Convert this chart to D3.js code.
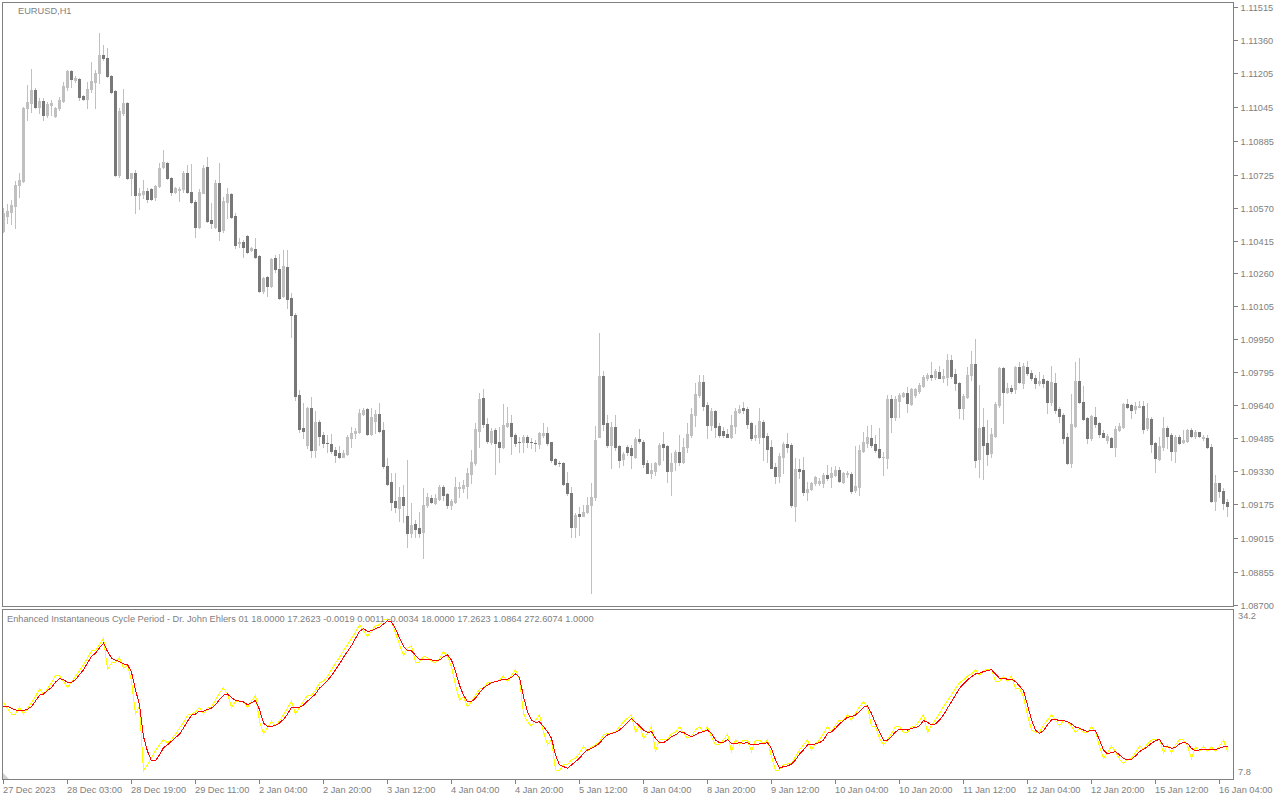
<!DOCTYPE html>
<html><head><meta charset="utf-8">
<script src="https://cdn.jsdelivr.net/npm/d3@7"></script>
<style>html,body{margin:0;padding:0;background:#fff;} svg{display:block;}</style>
</head><body>
<svg id="c" width="1280" height="800"></svg>
<script>
// ---- DATA (EURUSD H1, 307 bars) ----
const open = [1.10460,1.10531,1.10550,1.10578,1.10676,1.10695,1.11039,1.11063,1.11124,1.11044,1.11072,1.11006,1.11053,1.11002,1.11039,1.11072,1.11138,1.11213,1.11171,1.11176,1.11096,1.11082,1.11129,1.11162,1.11204,1.11288,1.11274,1.11190,1.11119,1.10723,1.11016,1.11063,1.10709,1.10733,1.10629,1.10634,1.10648,1.10658,1.10620,1.10672,1.10761,1.10780,1.10709,1.10644,1.10653,1.10658,1.10733,1.10644,1.10597,1.10479,1.10639,1.10761,1.10512,1.10479,1.10686,1.10465,1.10597,1.10634,1.10531,1.10404,1.10409,1.10437,1.10370,1.10376,1.10342,1.10177,1.10243,1.10201,1.10332,1.10281,1.10154,1.10290,1.10144,1.10064,1.09687,1.09532,1.09452,1.09626,1.09429,1.09561,1.09499,1.09462,1.09457,1.09429,1.09415,1.09396,1.09410,1.09485,1.09509,1.09514,1.09598,1.09622,1.09504,1.09565,1.09598,1.09523,1.09354,1.09279,1.09188,1.09155,1.09208,1.09118,1.09038,1.09080,1.09061,1.09043,1.09169,1.09203,1.09179,1.09198,1.09255,1.09222,1.09169,1.09184,1.09250,1.09250,1.09260,1.09316,1.09368,1.09518,1.09673,1.09551,1.09467,1.09523,1.09467,1.09443,1.09542,1.09556,1.09499,1.09467,1.09467,1.09490,1.09467,1.09462,1.09457,1.09499,1.09509,1.09467,1.09387,1.09368,1.09368,1.09274,1.09227,1.09066,1.09127,1.09118,1.09137,1.09169,1.09208,1.09490,1.09777,1.09556,1.09452,1.09537,1.09448,1.09387,1.09443,1.09438,1.09396,1.09481,1.09467,1.09368,1.09321,1.09330,1.09363,1.09457,1.09448,1.09330,1.09373,1.09420,1.09373,1.09443,1.09499,1.09593,1.09687,1.09749,1.09641,1.09546,1.09612,1.09542,1.09518,1.09504,1.09490,1.09542,1.09608,1.09626,1.09622,1.09556,1.09490,1.09490,1.09561,1.09495,1.09443,1.09349,1.09307,1.09396,1.09457,1.09452,1.09165,1.09340,1.09335,1.09232,1.09246,1.09274,1.09274,1.09274,1.09311,1.09302,1.09311,1.09335,1.09279,1.09316,1.09316,1.09241,1.09255,1.09424,1.09462,1.09485,1.09457,1.09433,1.09394,1.09392,1.09669,1.09584,1.09659,1.09683,1.09697,1.09645,1.09687,1.09706,1.09730,1.09767,1.09781,1.09772,1.09796,1.09767,1.09772,1.09852,1.09786,1.09744,1.09626,1.09678,1.09781,1.09833,1.09387,1.09537,1.09462,1.09415,1.09495,1.09641,1.09815,1.09702,1.09720,1.09716,1.09819,1.09744,1.09819,1.09791,1.09767,1.09744,1.09763,1.09753,1.09655,1.09744,1.09622,1.09593,1.09490,1.09368,1.09542,1.09753,1.09655,1.09579,1.09485,1.09584,1.09556,1.09509,1.09476,1.09485,1.09443,1.09523,1.09537,1.09645,1.09641,1.09622,1.09631,1.09636,1.09532,1.09575,1.09462,1.09387,1.09443,1.09532,1.09499,1.09424,1.09490,1.09467,1.09471,1.09523,1.09495,1.09514,1.09485,1.09485,1.09443,1.09188,1.09274,1.09236,1.09184];
const high = [1.10568,1.10587,1.10606,1.10695,1.10733,1.11044,1.11147,1.11223,1.11133,1.11086,1.11086,1.11068,1.11077,1.11044,1.11091,1.11162,1.11218,1.11218,1.11190,1.11180,1.11100,1.11162,1.11256,1.11218,1.11393,1.11336,1.11322,1.11194,1.11124,1.11039,1.11129,1.11068,1.10733,1.10747,1.10662,1.10700,1.10662,1.10662,1.10676,1.10780,1.10841,1.10785,1.10714,1.10667,1.10667,1.10742,1.10770,1.10775,1.10606,1.10658,1.10770,1.10808,1.10592,1.10700,1.10780,1.10620,1.10662,1.10639,1.10545,1.10427,1.10418,1.10441,1.10385,1.10427,1.10346,1.10243,1.10248,1.10332,1.10346,1.10351,1.10370,1.10370,1.10168,1.10074,1.09711,1.09650,1.09631,1.09678,1.09612,1.09570,1.09514,1.09499,1.09504,1.09443,1.09448,1.09429,1.09499,1.09537,1.09532,1.09622,1.09626,1.09626,1.09626,1.09617,1.09650,1.09561,1.09392,1.09321,1.09321,1.09255,1.09264,1.09382,1.09179,1.09099,1.09137,1.09250,1.09227,1.09217,1.09222,1.09264,1.09264,1.09227,1.09198,1.09302,1.09279,1.09288,1.09344,1.09429,1.09556,1.09697,1.09716,1.09579,1.09532,1.09532,1.09537,1.09645,1.09631,1.09593,1.09509,1.09490,1.09499,1.09499,1.09485,1.09476,1.09514,1.09556,1.09537,1.09467,1.09392,1.09377,1.09373,1.09326,1.09255,1.09132,1.09160,1.09169,1.09208,1.09274,1.09542,1.09980,1.09800,1.09593,1.09561,1.09593,1.09452,1.09420,1.09452,1.09452,1.09490,1.09528,1.09476,1.09382,1.09368,1.09373,1.09462,1.09514,1.09452,1.09415,1.09429,1.09499,1.09485,1.09556,1.09626,1.09744,1.09781,1.09781,1.09655,1.09626,1.09617,1.09556,1.09537,1.09528,1.09593,1.09626,1.09641,1.09655,1.09631,1.09561,1.09546,1.09626,1.09570,1.09509,1.09476,1.09368,1.09415,1.09467,1.09509,1.09462,1.09392,1.09387,1.09396,1.09279,1.09279,1.09307,1.09297,1.09321,1.09358,1.09349,1.09354,1.09349,1.09326,1.09330,1.09326,1.09448,1.09452,1.09514,1.09542,1.09546,1.09499,1.09532,1.09420,1.09687,1.09687,1.09683,1.09697,1.09702,1.09725,1.09720,1.09720,1.09744,1.09781,1.09791,1.09843,1.09810,1.09824,1.09810,1.09881,1.09876,1.09810,1.09749,1.09692,1.09819,1.09895,1.09952,1.09734,1.09626,1.09570,1.09532,1.09655,1.09819,1.09819,1.09744,1.09734,1.09824,1.09843,1.09838,1.09847,1.09805,1.09781,1.09796,1.09781,1.09758,1.09824,1.09791,1.09631,1.09603,1.09509,1.09692,1.09843,1.09862,1.09730,1.09584,1.09593,1.09631,1.09561,1.09523,1.09504,1.09490,1.09542,1.09556,1.09650,1.09669,1.09645,1.09655,1.09659,1.09659,1.09650,1.09584,1.09467,1.09490,1.09584,1.09542,1.09509,1.09499,1.09499,1.09523,1.09528,1.09532,1.09523,1.09514,1.09499,1.09499,1.09457,1.09311,1.09274,1.09250,1.09198];
const low = [1.10456,1.10498,1.10493,1.10474,1.10620,1.10691,1.10983,1.11021,1.11039,1.11016,1.10983,1.10997,1.11006,1.10997,1.11030,1.11068,1.11124,1.11138,1.11162,1.11077,1.11077,1.11039,1.11115,1.11039,1.11157,1.11265,1.11185,1.11110,1.10719,1.10714,1.11006,1.10705,1.10629,1.10545,1.10564,1.10615,1.10597,1.10606,1.10606,1.10667,1.10756,1.10705,1.10629,1.10639,1.10601,1.10644,1.10639,1.10592,1.10432,1.10474,1.10639,1.10503,1.10474,1.10474,1.10418,1.10456,1.10521,1.10521,1.10380,1.10385,1.10337,1.10356,1.10365,1.10332,1.10173,1.10168,1.10154,1.10196,1.10267,1.10140,1.10149,1.10097,1.09961,1.09664,1.09514,1.09485,1.09438,1.09396,1.09396,1.09452,1.09443,1.09420,1.09415,1.09373,1.09392,1.09396,1.09405,1.09443,1.09485,1.09509,1.09593,1.09499,1.09499,1.09509,1.09514,1.09344,1.09264,1.09146,1.09137,1.09094,1.09090,1.08972,1.09019,1.09019,1.09019,1.08920,1.09160,1.09179,1.09174,1.09193,1.09193,1.09155,1.09151,1.09179,1.09208,1.09232,1.09203,1.09274,1.09358,1.09443,1.09537,1.09462,1.09457,1.09316,1.09373,1.09438,1.09537,1.09410,1.09448,1.09420,1.09420,1.09443,1.09438,1.09424,1.09438,1.09490,1.09452,1.09373,1.09358,1.09354,1.09264,1.09217,1.09019,1.09019,1.09028,1.09118,1.09132,1.08756,1.09193,1.09490,1.09523,1.09443,1.09344,1.09429,1.09349,1.09358,1.09405,1.09344,1.09392,1.09462,1.09349,1.09321,1.09297,1.09311,1.09358,1.09382,1.09279,1.09217,1.09335,1.09358,1.09368,1.09420,1.09490,1.09542,1.09678,1.09617,1.09485,1.09523,1.09490,1.09490,1.09490,1.09490,1.09485,1.09509,1.09603,1.09603,1.09532,1.09476,1.09476,1.09462,1.09382,1.09373,1.09344,1.09274,1.09279,1.09321,1.09420,1.09160,1.09094,1.09297,1.09217,1.09193,1.09241,1.09264,1.09264,1.09255,1.09288,1.09255,1.09307,1.09279,1.09274,1.09302,1.09227,1.09232,1.09217,1.09420,1.09443,1.09443,1.09420,1.09392,1.09311,1.09344,1.09514,1.09570,1.09584,1.09678,1.09608,1.09641,1.09678,1.09697,1.09725,1.09758,1.09758,1.09763,1.09767,1.09749,1.09734,1.09767,1.09711,1.09579,1.09575,1.09673,1.09758,1.09349,1.09302,1.09293,1.09358,1.09396,1.09490,1.09631,1.09556,1.09697,1.09697,1.09697,1.09744,1.09720,1.09781,1.09758,1.09720,1.09734,1.09725,1.09603,1.09641,1.09603,1.09561,1.09462,1.09363,1.09349,1.09537,1.09650,1.09570,1.09462,1.09476,1.09537,1.09490,1.09490,1.09462,1.09443,1.09401,1.09518,1.09532,1.09626,1.09579,1.09603,1.09631,1.09509,1.09523,1.09420,1.09326,1.09382,1.09429,1.09438,1.09382,1.09373,1.09457,1.09462,1.09467,1.09490,1.09485,1.09490,1.09476,1.09438,1.09184,1.09146,1.09208,1.09151,1.09118];
const close = [1.10545,1.10554,1.10582,1.10676,1.10700,1.11039,1.11068,1.11124,1.11044,1.11072,1.11006,1.11058,1.11063,1.11039,1.11077,1.11143,1.11213,1.11176,1.11180,1.11091,1.11082,1.11129,1.11166,1.11204,1.11288,1.11274,1.11190,1.11115,1.10723,1.11025,1.11063,1.10709,1.10733,1.10629,1.10639,1.10648,1.10611,1.10611,1.10672,1.10756,1.10785,1.10709,1.10644,1.10662,1.10658,1.10733,1.10644,1.10597,1.10479,1.10644,1.10756,1.10507,1.10498,1.10686,1.10460,1.10601,1.10634,1.10526,1.10394,1.10409,1.10385,1.10361,1.10380,1.10337,1.10177,1.10238,1.10201,1.10328,1.10281,1.10144,1.10295,1.10140,1.10064,1.09683,1.09528,1.09518,1.09626,1.09429,1.09561,1.09495,1.09462,1.09460,1.09424,1.09405,1.09396,1.09415,1.09490,1.09509,1.09518,1.09603,1.09617,1.09504,1.09584,1.09598,1.09518,1.09354,1.09269,1.09184,1.09160,1.09208,1.09169,1.09038,1.09075,1.09057,1.09038,1.09169,1.09208,1.09184,1.09203,1.09255,1.09217,1.09169,1.09188,1.09255,1.09255,1.09264,1.09321,1.09373,1.09528,1.09669,1.09551,1.09471,1.09518,1.09462,1.09443,1.09546,1.09556,1.09495,1.09462,1.09465,1.09490,1.09467,1.09465,1.09460,1.09509,1.09509,1.09462,1.09382,1.09363,1.09366,1.09269,1.09227,1.09066,1.09122,1.09118,1.09137,1.09169,1.09208,1.09476,1.09777,1.09551,1.09452,1.09537,1.09443,1.09382,1.09410,1.09420,1.09405,1.09481,1.09471,1.09363,1.09321,1.09335,1.09368,1.09452,1.09443,1.09330,1.09368,1.09420,1.09373,1.09443,1.09504,1.09598,1.09692,1.09749,1.09636,1.09546,1.09612,1.09537,1.09499,1.09499,1.09490,1.09546,1.09612,1.09622,1.09617,1.09551,1.09485,1.09499,1.09565,1.09490,1.09433,1.09344,1.09307,1.09401,1.09457,1.09443,1.09169,1.09340,1.09330,1.09232,1.09246,1.09274,1.09302,1.09283,1.09311,1.09297,1.09321,1.09335,1.09283,1.09321,1.09321,1.09236,1.09260,1.09429,1.09467,1.09490,1.09452,1.09429,1.09396,1.09396,1.09669,1.09584,1.09669,1.09687,1.09697,1.09650,1.09716,1.09716,1.09734,1.09772,1.09781,1.09772,1.09800,1.09767,1.09777,1.09852,1.09777,1.09744,1.09626,1.09683,1.09781,1.09833,1.09382,1.09532,1.09452,1.09410,1.09504,1.09645,1.09815,1.09702,1.09720,1.09706,1.09819,1.09749,1.09824,1.09791,1.09767,1.09744,1.09753,1.09744,1.09655,1.09749,1.09617,1.09589,1.09485,1.09368,1.09551,1.09753,1.09655,1.09575,1.09485,1.09589,1.09551,1.09504,1.09490,1.09495,1.09443,1.09528,1.09542,1.09645,1.09631,1.09617,1.09636,1.09636,1.09528,1.09579,1.09457,1.09392,1.09448,1.09532,1.09495,1.09424,1.09490,1.09462,1.09476,1.09523,1.09495,1.09514,1.09495,1.09490,1.09443,1.09188,1.09274,1.09236,1.09179,1.09165];

// Enhanced Instantaneous Cycle Period: yellow = period, red = smoothed period
const periodYellow = [19.6,18.6,17.6,17.6,18.75,17.6,18.6,19.5,20.6,21.85,21.0,21.85,22.9,24.1,24.1,23.15,22.1,23.0,24.0,24.95,25.97,27.1,28.3,28.3,29.35,30.5,25.2,26.25,26.25,27.2,25.3,25.85,23.15,17.6,18.9,8.03,9.05,10.2,11.4,12.4,13.3,12.7,13.3,14.2,15.25,16.2,17.4,17.6,17.96,18.75,17.6,18.6,18.75,20.0,21.2,22.0,21.0,18.75,19.8,19.8,19.65,18.75,19.8,20.8,16.4,14.4,15.25,16.4,15.7,16.4,17.5,18.6,19.8,17.6,18.75,19.8,20.8,20.8,21.6,22.9,23.15,24.0,25.1,26.25,27.2,28.3,29.35,30.4,31.5,32.7,31.7,30.76,31.6,32.6,32.7,33.6,33.7,33.2,31.3,29.35,27.55,28.7,29.2,26.4,26.4,27.4,27.2,26.5,26.3,27.0,28.17,27.4,25.6,22.5,20.0,20.55,18.86,19.7,20.8,21.8,22.0,22.9,22.9,23.1,23.4,24.05,23.1,24.2,25.1,23.5,17.7,16.3,15.6,16.6,17.45,14.6,12.4,13.2,8.15,8.03,9.0,9.0,9.95,10.12,10.97,12.2,11.25,12.09,12.4,12.94,14.07,14.35,14.35,14.6,15.5,16.3,16.9,17.45,14.5,15.76,13.5,14.35,15.5,11.25,13.2,13.3,13.3,14.35,14.5,15.5,14.35,13.5,13.9,14.9,15.5,14.6,15.4,13.8,12.4,12.4,13.2,14.24,11.25,13.2,12.4,13.2,13.2,11.25,13.2,13.2,12.5,13.2,10.4,8.03,8.15,9.0,9.16,9.16,10.4,11.53,12.4,13.2,11.53,12.66,13.2,14.35,15.5,14.6,15.76,16.6,16.6,17.45,16.6,17.7,18.86,19.7,18.75,15.6,15.5,13.5,12.4,13.2,14.35,15.5,15.5,14.5,14.5,15.5,15.6,16.5,17.45,14.5,15.76,16.6,17.7,18.86,19.9,20.8,21.96,22.9,23.4,24.05,24.4,25.1,24.2,24.95,25.2,25.1,23.1,23.1,24.05,23.1,24.05,21.96,21.96,20.55,17.45,14.9,14.5,14.5,15.76,16.6,17.45,16.6,15.6,16.5,16.3,15.6,14.5,15.2,14.5,14.5,15.5,14.6,12.09,10.12,11.08,12.2,11.25,9.95,9.27,9.95,10.12,11.08,12.2,11.64,12.55,13.2,13.33,13.33,11.08,12.4,11.08,12.4,13.33,13.2,12.2,10.12,12.09,11.25,12.2,11.25,12.09,11.25,12.2,13.2,11.25];
const periodRed = [18.8,18.9,18.6,18.3,18.2,18.2,18.4,18.9,19.8,20.8,21.0,21.6,22.1,23.0,23.6,23.4,23.0,23.0,23.4,24.3,25.1,26.25,27.4,27.9,28.8,29.6,28.2,27.1,26.7,26.5,26.1,25.97,24.7,21.7,19.2,13.8,11.3,9.7,9.7,10.7,11.9,12.4,13.0,13.6,14.2,15.25,16.4,17.4,17.6,18.1,18.1,18.4,18.6,19.2,20.05,20.8,21.0,20.4,19.9,19.8,19.65,19.2,19.5,19.9,18.35,16.1,15.5,15.5,15.7,16.1,16.7,17.6,18.75,18.75,18.75,19.1,19.8,20.4,21.0,22.0,22.6,23.3,24.1,25.1,26.1,27.2,28.2,29.2,30.4,31.6,32.06,31.6,31.7,32.06,32.3,32.85,33.4,33.2,32.06,30.5,29.1,28.3,28.3,27.55,26.8,26.8,26.9,26.76,26.6,26.76,27.3,27.6,26.76,24.8,22.5,20.8,19.7,19.7,20.27,21.2,22.0,22.5,22.9,23.1,23.26,23.5,23.5,23.8,24.4,23.8,20.55,18.0,16.6,16.2,16.3,15.5,14.6,13.5,10.7,9.0,8.71,8.43,9.0,9.55,10.12,10.97,11.53,11.8,12.2,12.66,13.5,14.07,14.35,14.5,14.9,15.5,16.2,16.9,16.2,15.6,14.9,14.5,14.6,13.5,12.77,12.77,13.2,13.8,14.07,14.6,14.5,14.07,13.8,14.07,14.5,14.6,14.9,14.35,13.2,12.77,12.77,13.3,12.66,12.55,12.77,12.66,12.77,12.4,12.4,12.55,12.55,12.77,11.8,9.84,8.43,8.71,8.82,9.16,9.84,10.85,11.53,12.4,12.4,12.55,12.77,13.2,14.35,14.6,15.2,15.93,16.5,17.05,17.17,17.45,18.0,18.75,18.97,17.7,16.04,14.5,13.2,13.2,13.8,14.6,15.03,15.03,14.9,15.2,15.3,15.6,16.5,16.2,15.76,15.93,16.6,17.45,18.6,19.7,20.8,21.96,22.7,23.4,23.9,24.4,24.5,24.8,24.95,25.1,24.4,23.65,23.65,23.5,23.5,23.1,22.36,21.57,19.14,16.6,14.9,14.35,14.8,15.76,16.6,16.7,16.5,16.5,16.3,15.93,15.4,15.2,14.9,14.6,14.9,14.8,13.2,11.53,10.85,11.08,11.25,10.7,10.12,9.84,9.95,10.5,11.25,11.64,12.09,12.66,13.1,13.33,12.2,12.09,11.8,11.98,12.55,12.77,12.66,11.8,11.4,11.53,11.64,11.64,11.64,11.64,11.8,12.09,12.09];

const priceTicks = ["1.11515","1.11360","1.11205","1.11045","1.10885","1.10725","1.10570","1.10415","1.10260","1.10105","1.09950","1.09795","1.09640","1.09485","1.09330","1.09175","1.09015","1.08855","1.08700"];
const indicatorTicks = ["34.2","7.8"];
const timeLabels = ["27 Dec 2023","28 Dec 03:00","28 Dec 19:00","29 Dec 11:00","2 Jan 04:00","2 Jan 20:00","3 Jan 12:00","4 Jan 04:00","4 Jan 20:00","5 Jan 12:00","8 Jan 04:00","8 Jan 20:00","9 Jan 12:00","10 Jan 04:00","10 Jan 20:00","11 Jan 12:00","12 Jan 04:00","12 Jan 20:00","15 Jan 12:00","16 Jan 04:00"];
const barsPerLabel = 16;
const symbolTitle = "EURUSD,H1";
const indicatorTitle = "Enhanced Instantaneous Cycle Period - Dr. John Ehlers 01 18.0000 17.2623 -0.0019 0.0011 -0.0034 18.0000 17.2623 1.0864 272.6074 1.0000";

// ---- STYLE ----
const C = {bg:"#ffffff", frame:"#808080", text:"#808080", bull:"#c0c0c0", bear:"#787878", wick:"#c0c0c0", yellow:"#ffff00", red:"#ff0000"};
const FONT = "'Liberation Sans', Arial, sans-serif";
const FS = "9.25px";

const svg = d3.select("#c");
svg.append("rect").attr("width",1280).attr("height",800).attr("fill",C.bg);

const n = open.length;
const x = d3.scaleLinear().domain([0, n-1]).range([3.5, 3.5 + 4*(n-1)]);
const y = d3.scaleLinear().domain([1.08700, 1.11515]).range([604.67, 7.0]);
const yi = d3.scaleLinear().domain([7.8, 34.2]).range([772, 616]);

const defs = svg.append("defs");
defs.append("clipPath").attr("id","clipMain").append("rect").attr("x",3).attr("y",3).attr("width",1230).attr("height",603);
defs.append("clipPath").attr("id","clipInd").append("rect").attr("x",3).attr("y",610).attr("width",1230).attr("height",169);

const bars = d3.range(n).map(i => ({i, o:open[i], h:high[i], l:low[i], c:close[i]}));
const main = svg.append("g").attr("clip-path","url(#clipMain)").attr("shape-rendering","crispEdges");

main.selectAll("rect.wick").data(bars).join("rect").attr("class","wick")
  .attr("x", d => Math.round(x(d.i) - 0.5)).attr("width", 1)
  .attr("y", d => Math.round(y(d.h)))
  .attr("height", d => Math.max(1, Math.round(y(d.l)) - Math.round(y(d.h)) + 1))
  .attr("fill", C.wick);

main.selectAll("rect.body").data(bars).join("rect").attr("class","body")
  .attr("x", d => Math.round(x(d.i) - 1.5)).attr("width", 3)
  .attr("y", d => Math.round(y(Math.max(d.o, d.c))))
  .attr("height", d => Math.max(1, Math.round(y(Math.min(d.o, d.c))) - Math.round(y(Math.max(d.o, d.c))) + 1))
  .attr("fill", d => d.c >= d.o ? C.bull : C.bear);

// indicator lines
const ind = svg.append("g").attr("clip-path","url(#clipInd)");
const line = d3.line().x((d,i) => x(i)).y(d => yi(d));
ind.append("path").datum(periodYellow).attr("d", line).attr("fill","none").attr("stroke",C.yellow).attr("stroke-width",1).attr("shape-rendering","crispEdges");
ind.append("path").datum(periodRed).attr("d", line).attr("fill","none").attr("stroke",C.red).attr("stroke-width",1).attr("shape-rendering","crispEdges");

// frames
const fr = svg.append("g").attr("fill","none").attr("stroke",C.frame).attr("shape-rendering","crispEdges");
fr.append("rect").attr("x",2.5).attr("y",2.5).attr("width",1231).attr("height",604);
fr.append("rect").attr("x",2.5).attr("y",609.5).attr("width",1231).attr("height",170);

// price axis
const pa = svg.append("g").attr("font-family",FONT).attr("font-size",FS).attr("fill",C.text);
priceTicks.forEach(t => {
  const yy = Math.round(y(+t)) + 0.5;
  pa.append("line").attr("x1",1234).attr("x2",1238).attr("y1",yy).attr("y2",yy).attr("stroke",C.frame).attr("shape-rendering","crispEdges");
  pa.append("text").attr("x",1240.5).attr("y",yy+3.3).text(t);
});
indicatorTicks.forEach(t => {
  pa.append("text").attr("x",1238).attr("y",Math.round(yi(+t))+3.3).text(t);
});

// time axis
const ta = svg.append("g").attr("font-family",FONT).attr("font-size",FS).attr("fill",C.text);
timeLabels.forEach((t,k) => {
  const xx = Math.round(x(k*barsPerLabel) - 0.5) + 0.5;
  ta.append("line").attr("x1",xx).attr("x2",xx).attr("y1",780).attr("y2",784).attr("stroke",C.frame).attr("shape-rendering","crispEdges");
  ta.append("text").attr("x",xx-0.5).attr("y",793).text(t);
});

// titles
svg.append("text").attr("x",18).attr("y",14).attr("font-family",FONT).attr("font-size",FS).attr("fill",C.text).text(symbolTitle);
svg.append("text").attr("x",7).attr("y",622).attr("font-family",FONT).attr("font-size",FS).attr("fill",C.text).text(indicatorTitle);

// corner marker in indicator window
svg.append("path").attr("d","M3,773 L3,779 L9,779 Z").attr("fill","#d0d0d0");
</script>
</body></html>
